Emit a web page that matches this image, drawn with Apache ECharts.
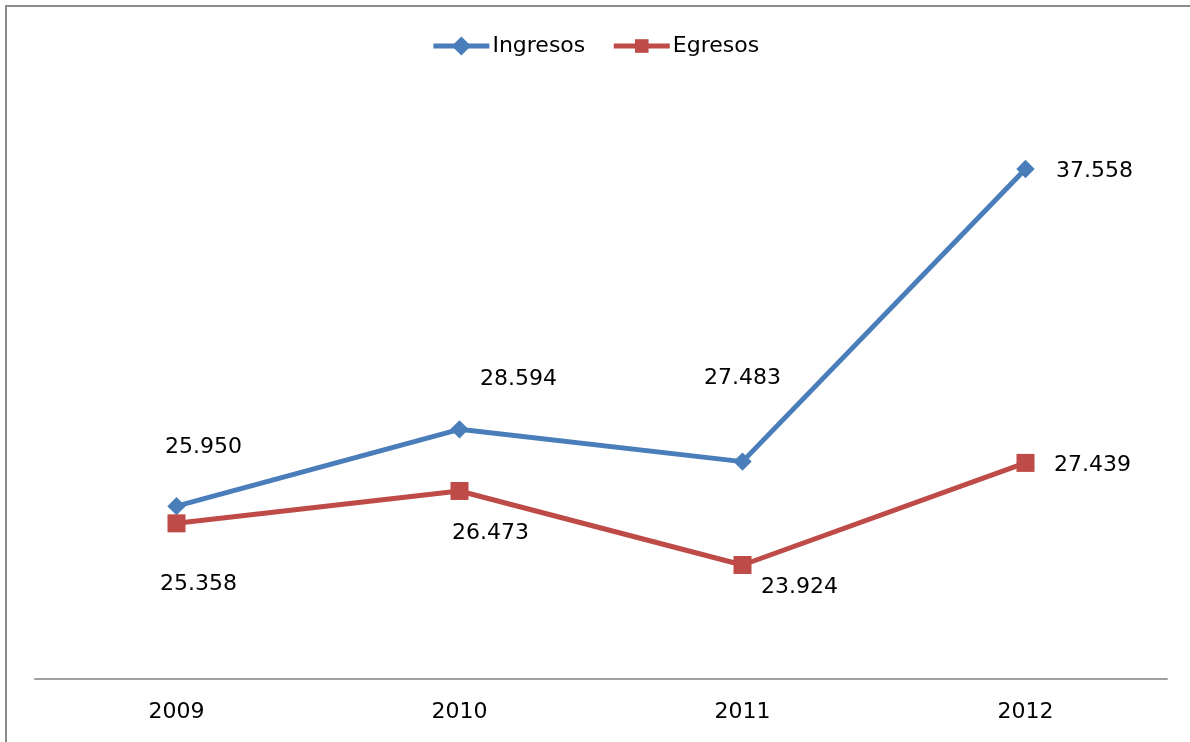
<!DOCTYPE html>
<html>
<head>
<meta charset="utf-8">
<script src="https://cdn.jsdelivr.net/npm/echarts@6/dist/echarts.min.js"></script>
<style>
  html, body { margin: 0; padding: 0; background: #fff; }
  #main { width: 1190px; height: 742px; }
</style>
</head>
<body>
<div id="main"></div>
<script>
// datos
const years = ["2009", "2010", "2011", "2012"];
const ingresos = [25950, 28594, 27483, 37558];
const egresos = [25358, 26473, 23924, 27439];

// desplazamiento de etiquetas (px) para imitar el gráfico original
const ingresosLabelOffset = [[27, -59], [59, -50], [0, -83], [69, 2]];
const egresosLabelOffset = [[22, 61], [31, 42], [57, 22], [67, 2]];

const FONT = "'DejaVu Sans', sans-serif";

function fmt(v) {
  return String(v).replace(/\B(?=(\d{3})+(?!\d))/g, ".");
}

function buildData(values, offsets) {
  return values.map((v, i) => ({
    value: v,
    label: { offset: offsets[i] }
  }));
}

let myChart = echarts.init(document.getElementById("main"));
let option = {
  backgroundColor: "#fff",
  animation: false,
  graphic: [
    {
      // marco del gráfico (solo borde superior e izquierdo visibles)
      type: "polyline",
      shape: { points: [[6, 742], [6, 6], [1190, 6]] },
      style: { fill: null, stroke: "#8c8c8c", lineWidth: 2 }
    }
  ],
  legend: {
    top: 30,
    left: "center",
    itemWidth: 56,
    itemHeight: 17,
    itemGap: 26,
    lineStyle: { width: 5 },
    textStyle: { fontFamily: FONT, fontSize: 22, color: "#000", padding: [0, 0, 0, -2] },
    data: ["Ingresos", "Egresos"]
  },
  grid: {
    left: 35,
    right: 23,
    top: 98,
    bottom: 63
  },
  xAxis: {
    type: "category",
    data: years,
    boundaryGap: true,
    axisLine: { lineStyle: { color: "#a0a0a0", width: 2 } },
    axisTick: { show: false },
    axisLabel: { fontFamily: FONT, fontSize: 22, color: "#000", margin: 22 }
  },
  yAxis: {
    type: "value",
    min: 20000,
    max: 40000,
    show: false,
    splitLine: { show: false }
  },
  series: [
    {
      name: "Ingresos",
      type: "line",
      data: buildData(ingresos, ingresosLabelOffset),
      color: "#4a7ebb",
      lineStyle: { width: 5 },
      symbol: "rect",
      symbolRotate: 45,
      symbolSize: 13,
      label: {
        show: true,
        position: "inside",
        formatter: p => fmt(p.value),
        fontFamily: FONT,
        fontSize: 22,
        color: "#000"
      }
    },
    {
      name: "Egresos",
      type: "line",
      data: buildData(egresos, egresosLabelOffset),
      color: "#be4b48",
      lineStyle: { width: 5 },
      symbol: "rect",
      symbolSize: 18,
      label: {
        show: true,
        position: "inside",
        formatter: p => fmt(p.value),
        fontFamily: FONT,
        fontSize: 22,
        color: "#000"
      }
    }
  ]
};
myChart.setOption(option);
</script>
</body>
</html>
